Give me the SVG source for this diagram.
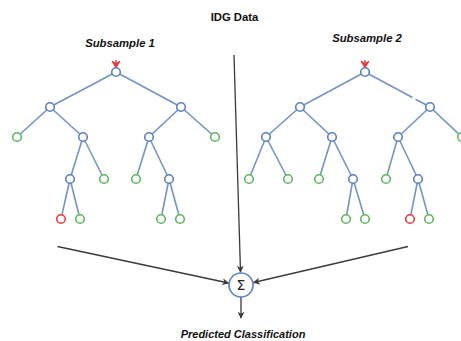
<svg xmlns="http://www.w3.org/2000/svg" width="461" height="341" viewBox="0 0 461 341">
  <style>
    .edge { stroke: #7393c9; stroke-width: 1.6; fill: none; stroke-linecap: round; }
    .node { fill: #ffffff; stroke: #5b7fbf; stroke-width: 1.6; }
    .leaf { fill: #ffffff; stroke: #5cb85c; stroke-width: 1.6; }
    .bad  { fill: #ffffff; stroke: #e83a3a; stroke-width: 1.6; }
    .flow { stroke: #3a3a3a; stroke-width: 1.3; fill: none; }
    .lbl  { font-family: "Liberation Sans", Arial, sans-serif; font-weight: bold; fill: #111111; text-anchor: middle; }
    .it   { font-style: italic; }
  </style>
  <defs>
    <marker id="arrow" viewBox="0 0 10 10" refX="9" refY="5" markerWidth="7" markerHeight="7" markerUnits="userSpaceOnUse" orient="auto">
      <path d="M0,0 L10,5 L0,10 L3,5 Z" fill="#3a3a3a"/>
    </marker>
    <path id="entry" d="M0,-12 L0,-5 M-3.6,-10.5 L0,-4.5 L3.6,-10.5 L0,-8 Z" stroke="#e83a3a" stroke-width="1.4" fill="#e83a3a" stroke-linejoin="round"/>
  </defs>

  <!-- titles -->
  <text class="lbl" x="234.5" y="20.5" font-size="11.3">IDG Data</text>
  <text class="lbl it" x="120" y="47.3" font-size="11.3">Subsample 1</text>
  <text class="lbl it" x="367" y="42.3" font-size="11.3">Subsample 2</text>
  <text class="lbl it" x="243" y="338" font-size="11">Predicted Classification</text>

  <!-- decision tree for subsample 1 -->
  <g id="tree1">
    <g class="edges">
      <line class="edge" x1="116" y1="72" x2="50" y2="107"/>
      <line class="edge" x1="116" y1="72" x2="181" y2="107"/>
      <line class="edge" x1="50" y1="107" x2="17" y2="137"/>
      <line class="edge" x1="50" y1="107" x2="83" y2="137"/>
      <line class="edge" x1="83" y1="137" x2="70" y2="179"/>
      <line class="edge" x1="83" y1="137" x2="104" y2="179"/>
      <line class="edge" x1="70" y1="179" x2="61" y2="219"/>
      <line class="edge" x1="70" y1="179" x2="80" y2="219"/>
      <line class="edge" x1="181" y1="107" x2="149" y2="137"/>
      <line class="edge" x1="181" y1="107" x2="215" y2="137"/>
      <line class="edge" x1="149" y1="137" x2="136" y2="179"/>
      <line class="edge" x1="149" y1="137" x2="169" y2="179"/>
      <line class="edge" x1="169" y1="179" x2="161" y2="219"/>
      <line class="edge" x1="169" y1="179" x2="180" y2="219"/>
    </g>
    <use href="#entry" x="116" y="72"/>
    <circle class="node" cx="116" cy="72" r="4.3"/>
    <circle class="node" cx="50" cy="107" r="4.3"/>
    <circle class="node" cx="181" cy="107" r="4.3"/>
    <circle class="leaf" cx="17" cy="137" r="4.3"/>
    <circle class="node" cx="83" cy="137" r="4.3"/>
    <circle class="node" cx="149" cy="137" r="4.3"/>
    <circle class="leaf" cx="215" cy="137" r="4.3"/>
    <circle class="node" cx="70" cy="179" r="4.3"/>
    <circle class="leaf" cx="104" cy="179" r="4.3"/>
    <circle class="leaf" cx="136" cy="179" r="4.3"/>
    <circle class="node" cx="169" cy="179" r="4.3"/>
    <circle class="bad" cx="61" cy="219" r="4.3"/>
    <circle class="leaf" cx="80" cy="219" r="4.3"/>
    <circle class="leaf" cx="161" cy="219" r="4.3"/>
    <circle class="leaf" cx="180" cy="219" r="4.3"/>
  </g>

  <!-- decision tree for subsample 2 -->
  <g id="tree2">
    <g class="edges">
      <line class="edge" x1="300" y1="107" x2="365" y2="72"/>
      <line class="edge" x1="365" y1="72" x2="412" y2="97.3"/>
      <line class="edge" x1="416" y1="99.5" x2="430" y2="107"/>
      <line class="edge" x1="300" y1="107" x2="266" y2="137"/>
      <line class="edge" x1="300" y1="107" x2="332" y2="137"/>
      <line class="edge" x1="266" y1="137" x2="249" y2="179"/>
      <line class="edge" x1="266" y1="137" x2="288" y2="179"/>
      <line class="edge" x1="332" y1="137" x2="319" y2="179"/>
      <line class="edge" x1="332" y1="137" x2="353" y2="179"/>
      <line class="edge" x1="353" y1="179" x2="346" y2="219"/>
      <line class="edge" x1="353" y1="179" x2="365" y2="219"/>
      <line class="edge" x1="430" y1="107" x2="398" y2="137"/>
      <line class="edge" x1="430" y1="107" x2="462" y2="137"/>
      <line class="edge" x1="398" y1="137" x2="386" y2="179"/>
      <line class="edge" x1="398" y1="137" x2="418" y2="179"/>
      <line class="edge" x1="418" y1="179" x2="410" y2="219"/>
      <line class="edge" x1="418" y1="179" x2="429" y2="219"/>
    </g>
    <use href="#entry" x="365" y="72"/>
    <circle class="node" cx="365" cy="72" r="4.3"/>
    <circle class="node" cx="300" cy="107" r="4.3"/>
    <circle class="node" cx="430" cy="107" r="4.3"/>
    <circle class="node" cx="266" cy="137" r="4.3"/>
    <circle class="node" cx="332" cy="137" r="4.3"/>
    <circle class="node" cx="398" cy="137" r="4.3"/>
    <circle class="leaf" cx="462" cy="137" r="4.3"/>
    <circle class="leaf" cx="249" cy="179" r="4.3"/>
    <circle class="leaf" cx="288" cy="179" r="4.3"/>
    <circle class="leaf" cx="319" cy="179" r="4.3"/>
    <circle class="node" cx="353" cy="179" r="4.3"/>
    <circle class="leaf" cx="386" cy="179" r="4.3"/>
    <circle class="node" cx="418" cy="179" r="4.3"/>
    <circle class="leaf" cx="346" cy="219" r="4.3"/>
    <circle class="leaf" cx="365" cy="219" r="4.3"/>
    <circle class="bad" cx="410" cy="219" r="4.3"/>
    <circle class="leaf" cx="429" cy="219" r="4.3"/>
  </g>

  <!-- aggregation connectors -->
  <g id="connectors">
    <line class="flow" x1="234" y1="55" x2="240.5" y2="272" marker-end="url(#arrow)"/>
    <line class="flow" x1="57.5" y1="246.5" x2="228.5" y2="283" marker-end="url(#arrow)"/>
    <line class="flow" x1="408" y1="246.5" x2="253.5" y2="282.5" marker-end="url(#arrow)"/>
    <line class="flow" x1="241" y1="297" x2="241" y2="318" marker-end="url(#arrow)"/>
  </g>

  <!-- summation node -->
  <g id="sum">
    <circle cx="241" cy="285" r="12" fill="#ffffff" stroke="#5b86c8" stroke-width="1.7"/>
    <text x="241" y="290" font-family="'DejaVu Sans', sans-serif" font-size="14" fill="#222222" text-anchor="middle">Σ</text>
  </g>
</svg>
